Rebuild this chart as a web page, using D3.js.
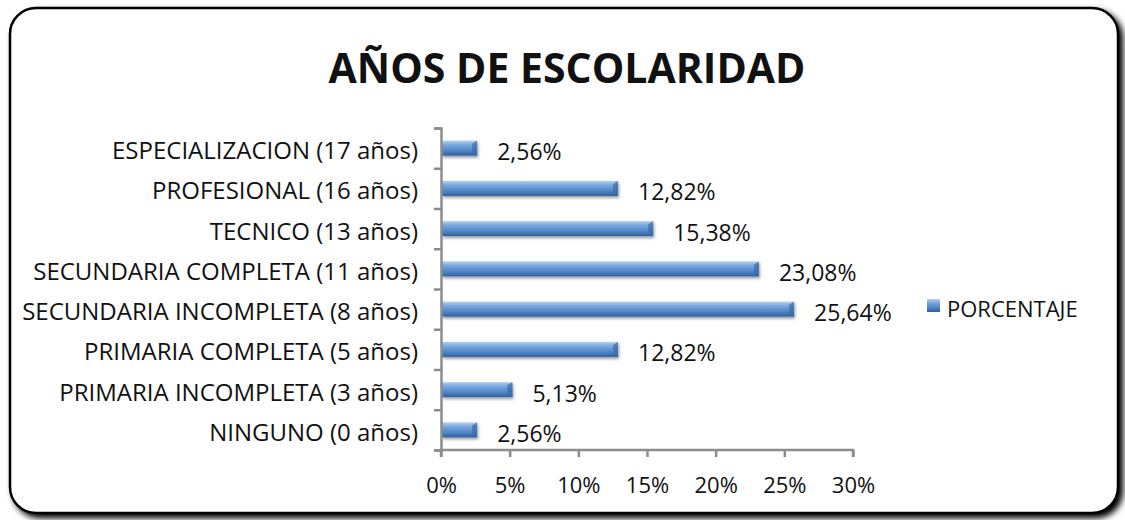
<!DOCTYPE html>
<html>
<head>
<meta charset="utf-8">
<script src="https://cdn.jsdelivr.net/npm/d3@7"></script>
<style>
  body { margin: 0; background: #fff; }
  svg text { font-family: "Open Sans", "Noto Sans", sans-serif; fill: #111; }
</style>
</head>
<body>
<svg width="1125" height="520"></svg>
<script>
// Data
var categories = [
  "NINGUNO (0 años)",
  "PRIMARIA INCOMPLETA (3 años)",
  "PRIMARIA COMPLETA (5 años)",
  "SECUNDARIA INCOMPLETA (8 años)",
  "SECUNDARIA COMPLETA (11 años)",
  "TECNICO (13 años)",
  "PROFESIONAL (16 años)",
  "ESPECIALIZACION (17 años)"
];
var values = [2.56, 5.13, 12.82, 25.64, 23.08, 15.38, 12.82, 2.56];
var xTicks = [0, 5, 10, 15, 20, 25, 30];
var seriesName = "PORCENTAJE";
var title = "AÑOS DE ESCOLARIDAD";

var svg = d3.select("svg");

var defs = svg.append("defs");
var shadow = defs.append("filter").attr("id", "shadow")
  .attr("x", "-5%").attr("y", "-5%").attr("width", "110%").attr("height", "115%");
shadow.append("feGaussianBlur").attr("in", "SourceAlpha").attr("stdDeviation", 3);
shadow.append("feOffset").attr("dx", 4).attr("dy", 4).attr("result", "off");
var merge = shadow.append("feMerge");
merge.append("feMergeNode").attr("in", "off");
merge.append("feMergeNode").attr("in", "SourceGraphic");

var grad = defs.append("linearGradient").attr("id", "barGrad")
  .attr("x1", 0).attr("y1", 0).attr("x2", 0).attr("y2", 1);
grad.append("stop").attr("offset", "0%").attr("stop-color", "#b3d0ef");
grad.append("stop").attr("offset", "30%").attr("stop-color", "#76a6dc");
grad.append("stop").attr("offset", "75%").attr("stop-color", "#4a7ebf");
grad.append("stop").attr("offset", "100%").attr("stop-color", "#2f5f9a");

var barShadow = defs.append("filter").attr("id", "barShadow")
  .attr("x", "-5%").attr("y", "-30%").attr("width", "115%").attr("height", "180%");
barShadow.append("feGaussianBlur").attr("in", "SourceAlpha").attr("stdDeviation", 1.5);
barShadow.append("feOffset").attr("dx", 1).attr("dy", 2).attr("result", "o");
barShadow.append("feComponentTransfer").append("feFuncA").attr("type", "linear").attr("slope", 0.4);
var bm = barShadow.append("feMerge");
bm.append("feMergeNode");
bm.append("feMergeNode").attr("in", "SourceGraphic");

// frame
svg.append("rect")
  .attr("x", 10).attr("y", 8).attr("width", 1108).attr("height", 505)
  .attr("rx", 26).attr("ry", 26)
  .attr("fill", "#fff").attr("stroke", "#000").attr("stroke-width", 2.5)
  .attr("filter", "url(#shadow)");

// title
svg.append("text")
  .attr("x", 567).attr("y", 83)
  .attr("text-anchor", "middle")
  .style("font-size", "41px").style("font-weight", "bold")
  .text(title);

var x = d3.scaleLinear().domain([0, 30]).range([441, 853]);
var y = d3.scaleBand().domain(categories).range([450, 128]);

// bars
var g = svg.append("g");
var bh = 15;
g.selectAll("rect.bar")
  .data(values)
  .enter().append("rect")
  .attr("class", "bar")
  .attr("x", x(0) + 1)
  .attr("y", function(d, i) { return y(categories[i]) + y.bandwidth() / 2 - bh / 2; })
  .attr("width", function(d) { return x(d) - x(0); })
  .attr("height", bh)
  .attr("fill", "url(#barGrad)")
  .attr("filter", "url(#barShadow)");

// bar end bevel
g.selectAll("path.bevel")
  .data(values)
  .enter().append("path")
  .attr("class", "bevel")
  .attr("d", function(d, i) {
    var x1 = x(d) + 1, yt = y(categories[i]) + y.bandwidth() / 2 - bh / 2;
    return "M" + (x1 - 5) + "," + (yt + 3) + "L" + x1 + "," + yt + "L" + x1 + "," + (yt + bh) +
      "L" + (x1 - 5) + "," + (yt + bh - 3) + "Z";
  })
  .attr("fill", "#3a6aa6").attr("opacity", 0.7);

// value labels
g.selectAll("text.val")
  .data(values)
  .enter().append("text")
  .attr("class", "val")
  .attr("x", function(d) { return x(d) + 21; })
  .attr("y", function(d, i) { return y(categories[i]) + y.bandwidth() / 2 + 12; })
  .style("font-size", "23px")
  .text(function(d) { return d.toFixed(2).replace(".", ",") + "%"; });

// y axis
var yAxis = d3.axisLeft(d3.scaleLinear().domain([0, 8]).range([450, 128]))
  .ticks(8).tickSize(7).tickFormat("");
var ya = svg.append("g").attr("transform", "translate(441,0)").call(yAxis);
ya.selectAll("path, line").attr("stroke", "#8c8c8c").attr("stroke-width", 2.5);

svg.selectAll("text.cat")
  .data(categories)
  .enter().append("text")
  .attr("class", "cat")
  .attr("x", 418)
  .attr("y", function(d) { return y(d) + y.bandwidth() / 2 + 11; })
  .attr("text-anchor", "end")
  .style("font-size", "24px")
  .text(function(d) { return d; });

// x axis
var xAxis = d3.axisBottom(x).tickValues(xTicks).tickSize(7)
  .tickFormat(function(d) { return d + "%"; });
var xa = svg.append("g").attr("transform", "translate(0,450)").call(xAxis);
xa.selectAll("path, line").attr("stroke", "#8c8c8c").attr("stroke-width", 2.5);
xa.select(".domain").attr("d", "M" + x(0) + ",7V0H" + x(30) + "V7");
xa.selectAll("text").attr("dy", null).attr("y", 43)
  .style("font-size", "22px").style("font-family", "'Open Sans', sans-serif").attr("fill", "#111");

// legend
var lg = svg.append("g").attr("transform", "translate(927,299)");
lg.append("rect").attr("width", 13).attr("height", 13).attr("fill", "url(#barGrad)");
lg.append("text").attr("x", 20).attr("y", 18).style("font-size", "22px").text(seriesName);
</script>
</body>
</html>
